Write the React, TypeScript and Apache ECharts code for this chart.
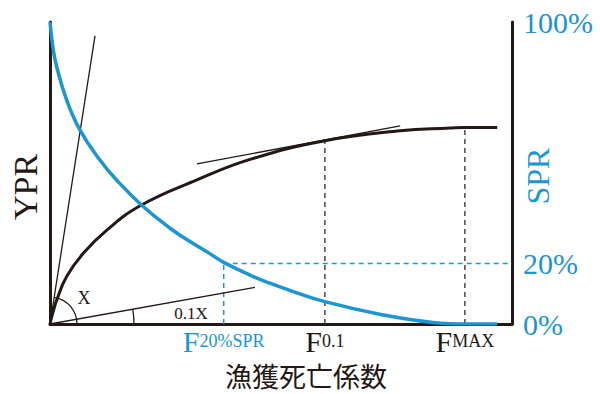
import React, { useEffect, useRef } from "react";
import * as echarts from "echarts";

// Fishing mortality (relative units, 0..1 across the axis)
const yprF = [0, 0.0058, 0.0145, 0.036, 0.072, 0.123, 0.198, 0.318, 0.433, 0.595, 0.758, 0.866, 0.898, 0.968];
// Yield per recruit (relative units)
const yprValues = [0, 3.5, 7.9, 15.7, 23.4, 31.1, 39.4, 47.7, 54.5, 60.7, 64.0, 64.9, 65.1, 65.1];

const sprF = [0, 0.0071, 0.0145, 0.036, 0.065, 0.108, 0.144, 0.198, 0.26, 0.303, 0.346, 0.376, 0.433, 0.476, 0.516, 0.595, 0.721, 0.829, 0.902, 0.968];
// Spawning per recruit (%)
const sprValues = [100, 90.7, 85.2, 74.2, 64.2, 54.3, 47.7, 39.4, 31.7, 27.3, 23.3, 20.4, 16.2, 13.5, 11.3, 7.4, 3.0, 0.5, 0, 0];

// Reference points on the F axis
const F20 = 0.376;
const F01 = 0.595;
const FMAX = 0.898;
const refPoints = [F20, F01, FMAX];
const refSubs = ["20%SPR", "0.1", "MAX"];
const SPR_TARGET = 20;
const YPR_AT_F01 = 60.7;
const YPR_AT_FMAX = 65.1;

// Tangent lines: slope at origin (X), one tenth-type slope (0.1X), tangent at F0.1
const originTangent = [[0, 0], [0.0974, 95.4]];
const tenthLine = [[0, 0], [0.4437, 12.1]];
const f01Tangent = [[0.318, 53.0], [0.758, 65.6]];

const rightTicks = [0, 20, 100];

const INK = "#231815";
const BLUE = "#1b95d3";
const SERIF = "'Liberation Serif', 'Times New Roman', serif";

export default function App() {
  const ref = useRef<HTMLDivElement>(null);

  useEffect(() => {
    document.body.style.margin = "0";
    if (!ref.current) return;
    const chart = echarts.init(ref.current, null, { renderer: "svg" });

    const thin = { color: INK, width: 1.3 };
    const lineSeries = (data: number[][], lineStyle: any, z = 3, yAxisIndex = 0) => ({
      type: "line",
      data,
      yAxisIndex,
      symbol: "none",
      silent: true,
      z,
      lineStyle,
    });

    chart.setOption({
      animation: false,
      grid: { left: 50, right: 88, top: 22, bottom: 70 },
      xAxis: {
        type: "value",
        min: 0,
        max: 1,
        axisLine: { show: true, onZero: false, lineStyle: { color: INK, width: 3 } },
        axisTick: { show: false },
        splitLine: { show: false },
        axisLabel: {
          customValues: refPoints,
          margin: 5,
          formatter: (v: number) => {
            let idx = 0;
            refPoints.forEach((p, i) => {
              if (Math.abs(p - v) < Math.abs(refPoints[idx] - v)) idx = i;
            });
            const c = idx === 0 ? "b" : "k";
            return `{f${c}|F}{s${c}|${refSubs[idx]}}`;
          },
          rich: {
            fb: { fontSize: 30, fontFamily: SERIF, color: BLUE, lineHeight: 24 },
            sb: { fontSize: 18, fontFamily: SERIF, color: BLUE, lineHeight: 24 },
            fk: { fontSize: 30, fontFamily: SERIF, color: INK, lineHeight: 24 },
            sk: { fontSize: 18, fontFamily: SERIF, color: INK, lineHeight: 24 },
          },
        },
      },
      yAxis: [
        {
          type: "value",
          min: 0,
          max: 100,
          position: "left",
          axisLine: { show: true, onZero: false, lineStyle: { color: INK, width: 3 } },
          axisTick: { show: false },
          axisLabel: { show: false },
          splitLine: { show: false },
        },
        {
          type: "value",
          min: 0,
          max: 100,
          interval: 20,
          position: "right",
          axisLine: { show: true, onZero: false, lineStyle: { color: INK, width: 3 } },
          axisTick: { show: false },
          splitLine: { show: false },
          axisLabel: {
            margin: 11,
            color: BLUE,
            fontSize: 30,
            fontFamily: SERIF,
            formatter: (v: number) => (rightTicks.includes(v) ? `${v}%` : ""),
          },
        },
      ],
      series: [
        lineSeries(originTangent, thin),
        lineSeries(tenthLine, thin),
        lineSeries(f01Tangent, thin),
        lineSeries([[F20, 0], [F20, SPR_TARGET]], { color: BLUE, width: 1.5, type: [5, 4] }, 2, 1),
        lineSeries([[F20, SPR_TARGET], [1, SPR_TARGET]], { color: BLUE, width: 1.5, type: [5, 4] }, 2, 1),
        lineSeries([[F01, 0], [F01, YPR_AT_F01]], { color: "#4a4444", width: 1.5, type: [5, 4] }, 2),
        lineSeries([[FMAX, 0], [FMAX, YPR_AT_FMAX]], { color: "#4a4444", width: 1.5, type: [5, 4] }, 2),
        {
          ...lineSeries(yprF.map((f, i) => [f, yprValues[i]]), { color: INK, width: 3 }, 4),
          smooth: 0.45,
        },
        {
          ...lineSeries(sprF.map((f, i) => [f, sprValues[i]]), { color: BLUE, width: 3.5 }, 5, 1),
          smooth: 0.45,
        },
      ],
    });

    // Angle markers at the origin, derived from the tangent lines
    const px = (p: number[]) => chart.convertToPixel({ xAxisIndex: 0, yAxisIndex: 0 }, p) as number[];
    const o = px([0, 0]);
    const a1 = px(originTangent[1]);
    const a2 = px(tenthLine[1]);
    const angSteep = Math.atan2(a1[1] - o[1], a1[0] - o[0]);
    const angTenth = Math.atan2(a2[1] - o[1], a2[0] - o[0]);

    chart.setOption({
      graphic: [
        {
          type: "arc",
          silent: true,
          shape: { cx: o[0], cy: o[1], r: 27, startAngle: angSteep, endAngle: 0, clockwise: true },
          style: { stroke: INK, lineWidth: 1.3, fill: "none" },
          z: 10,
        },
        {
          type: "arc",
          silent: true,
          shape: { cx: o[0], cy: o[1], r: 84, startAngle: angTenth, endAngle: 0, clockwise: true },
          style: { stroke: INK, lineWidth: 1.3, fill: "none" },
          z: 10,
        },
        {
          type: "text",
          x: o[0] + 34,
          y: o[1] - 26,
          style: { text: "X", fontSize: 18, fontFamily: SERIF, fill: INK, align: "center", verticalAlign: "middle" },
          z: 10,
        },
        {
          type: "text",
          x: o[0] + 141,
          y: o[1] - 11,
          style: { text: "0.1X", fontSize: 17, fontFamily: SERIF, fill: INK, align: "center", verticalAlign: "middle" },
          z: 10,
        },
        {
          type: "text",
          x: 25,
          y: 187,
          rotation: Math.PI / 2,
          style: { text: "YPR", fontSize: 34, fontFamily: SERIF, fill: INK, align: "center", verticalAlign: "middle" },
        },
        {
          type: "text",
          x: 538,
          y: 176,
          rotation: Math.PI / 2,
          style: { text: "SPR", fontSize: 32, fontFamily: SERIF, fill: BLUE, align: "center", verticalAlign: "middle" },
        },
        {
          type: "text",
          x: 306,
          y: 375,
          style: {
            text: "漁獲死亡係数",
            fontSize: 27,
            lineHeight: 26,
            fontFamily: "'Noto Sans CJK JP', sans-serif",
            fill: INK,
            align: "center",
            verticalAlign: "middle",
          },
        },
      ],
    });

    return () => chart.dispose();
  }, []);

  return <div ref={ref} style={{ width: 600, height: 394 }} />;
}
